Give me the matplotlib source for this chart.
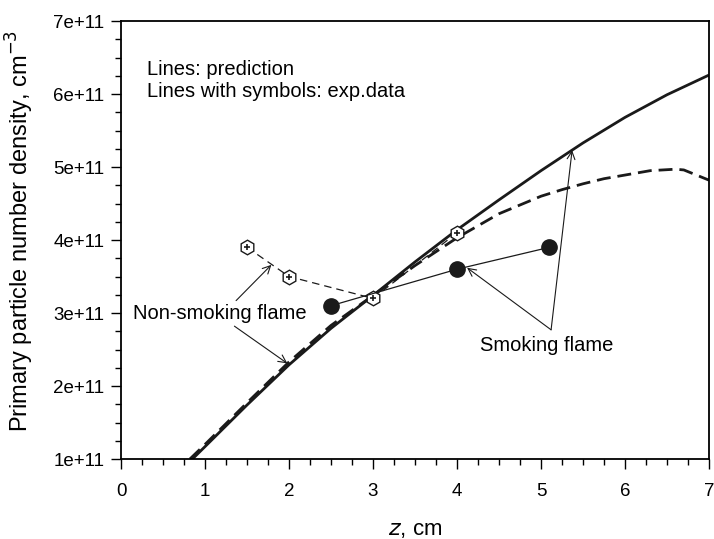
import numpy as np
import matplotlib
matplotlib.use("Agg")
import matplotlib.pyplot as plt
from matplotlib.ticker import MultipleLocator

plt.rcParams['font.family'] = ['Liberation Sans', 'DejaVu Sans']

# model predictions (values in 1e11 cm^-3)
z_smoke = [0.85, 1.0, 1.5, 2.0, 2.5, 3.0, 3.5, 4.0, 4.5, 5.0, 5.5, 6.0, 6.5, 7.0]
n_smoke = [1.00, 1.17, 1.74, 2.29, 2.79, 3.24, 3.70, 4.14, 4.55, 4.95, 5.33, 5.68, 5.99, 6.26]

z_nonsmoke = [0.82, 1.0, 1.5, 2.0, 2.5, 3.0, 3.5, 4.0, 4.5, 5.0, 5.25, 5.5, 5.75, 6.0, 6.3, 6.6, 6.7, 7.0]
n_nonsmoke = [1.00, 1.20, 1.77, 2.33, 2.83, 3.24, 3.65, 4.03, 4.36, 4.60, 4.69, 4.77, 4.84, 4.89, 4.95, 4.97, 4.96, 4.82]

# experiments
z_exp_non = [1.5, 2.0, 3.0, 4.0]
n_exp_non = [3.9, 3.5, 3.2, 4.1]
z_exp_smoke = [2.5, 4.0, 5.1]
n_exp_smoke = [3.1, 3.6, 3.9]

yticks = [1, 2, 3, 4, 5, 6, 7]
ytick_labels = ['1e+11', '2e+11', '3e+11', '4e+11', '5e+11', '6e+11', '7e+11']

fig = plt.figure(figsize=(7.14, 5.39), dpi=100)
ax = fig.add_axes([0.1695, 0.1484, 0.8235, 0.8126])

ax.plot(z_smoke, n_smoke, color='#1a1a1a', lw=2.0, solid_capstyle='butt')
ax.plot(z_nonsmoke, n_nonsmoke, color='#1a1a1a', lw=2.0, dashes=(5, 2.5))

ax.plot(z_exp_non, n_exp_non, color='#1a1a1a', lw=0.9, dashes=(6, 4),
        marker='h', ms=10.5, mfc='white', mec='#1a1a1a', mew=1.0)
ax.plot(z_exp_non, n_exp_non, ls='none', marker='+', ms=4, mec='#1a1a1a', mew=1.2)
ax.plot(z_exp_smoke, n_exp_smoke, color='#1a1a1a', lw=0.9,
        marker='o', ms=11, mfc='#1a1a1a', mec='#1a1a1a')

ax.set_xlim(0, 7)
ax.set_ylim(1, 7)
ax.xaxis.set_major_locator(MultipleLocator(1))
ax.xaxis.set_minor_locator(MultipleLocator(0.25))
ax.set_yticks(yticks)
ax.set_yticklabels(ytick_labels)
ax.yaxis.set_minor_locator(MultipleLocator(0.25))
ax.tick_params(which='major', direction='out', length=7, width=1.0, labelsize=13.5)
ax.tick_params(axis='x', which='major', pad=10)
ax.tick_params(axis='y', which='major', pad=5)
ax.tick_params(which='minor', direction='out', length=4, width=1.0)
for s in ax.spines.values():
    s.set_linewidth(1.3)

ax.set_xlabel('$\\it{z}$, cm', fontsize=16, labelpad=14)
ax.set_ylabel('Primary particle number density, cm$^{-3}$', fontsize=17)
ax.yaxis.set_label_coords(-0.145, 0.52)

ax.text(0.31, 6.18, 'Lines: prediction\nLines with symbols: exp.data', fontsize=14.5,
        va='center', ha='left', linespacing=1.2)

arrow = dict(arrowstyle='->', lw=0.8, color='#1a1a1a', shrinkA=0, shrinkB=0,
             mutation_scale=14)
ax.text(1.18, 3.0, 'Non-smoking flame', fontsize=14.5, ha='center', va='center')
ax.annotate('', xy=(1.79, 3.66), xytext=(1.37, 3.17), arrowprops=arrow)
ax.annotate('', xy=(1.98, 2.31), xytext=(1.35, 2.82), arrowprops=arrow)

ax.text(5.07, 2.56, 'Smoking flame', fontsize=14.5, ha='center', va='center')
ax.annotate('', xy=(4.12, 3.62), xytext=(5.12, 2.77), arrowprops=arrow)
ax.annotate('', xy=(5.37, 5.23), xytext=(5.12, 2.77), arrowprops=arrow)

fig.savefig('out.png', dpi=100)
